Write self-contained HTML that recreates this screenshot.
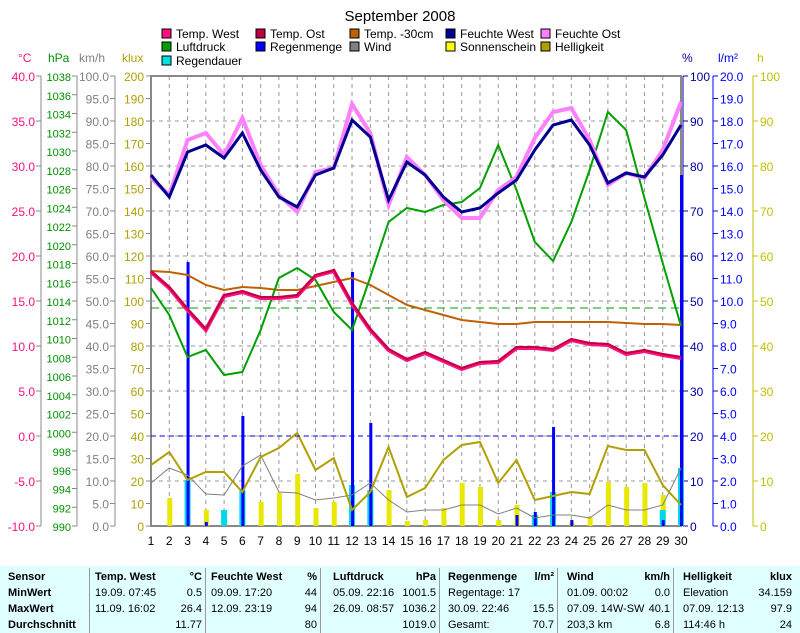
<!DOCTYPE html><html><head><meta charset="utf-8"><style>
body{margin:0;background:#fff;width:800px;height:633px;overflow:hidden;font-family:"Liberation Sans",sans-serif}
svg{position:absolute;left:0;top:0}
#tbl{position:absolute;left:0;top:566px;width:800px;height:67px;background:#e0ffff;font-size:11px}
#tbl div{position:absolute;white-space:nowrap}
.b{font-weight:bold}
.sep{width:1px;background:#999;top:2px;height:65px}
</style></head><body>
<svg id="s" width="800" height="566" font-family="Liberation Sans, sans-serif"></svg>
<div id="tbl"></div>
<script>
const s=document.getElementById('s');let h='';
const X=d=>151+(d-1)*(530/29);
h+='<text x="400" y="21" font-size="15" text-anchor="middle">September 2008</text>';
const leg=[[162,37,'#ff1080','Temp. West'],[256,37,'#c00040','Temp. Ost'],[350,37,'#c06000','Temp. -30cm'],[446,37,'#000090','Feuchte West'],[541,37,'#ff80ff','Feuchte Ost'],
[162,50,'#00a000','Luftdruck'],[256,50,'#0000ff','Regenmenge'],[350,50,'#808080','Wind'],[446,50,'#ffff00','Sonnenschein'],[541,50,'#b0a000','Helligkeit'],[162,64,'#00e0e0','Regendauer']];
leg.forEach(l=>{h+=`<rect x="${l[0]}" y="${l[1]-8}" width="9" height="9" fill="${l[2]}" stroke="#000"/><text x="${l[0]+14}" y="${l[1]+1}" font-size="12">${l[3]}</text>`});
for(let d=1;d<=30;d++){h+=`<line x1="${X(d)}" y1="76" x2="${X(d)}" y2="526" stroke="#999" stroke-dasharray="4,4"/>`;h+=`<text x="${X(d)}" y="545" font-size="12" text-anchor="middle">${d}</text>`}
for(let y=76;y<=526;y+=45)h+=`<line x1="151" y1="${y}" x2="681" y2="${y}" stroke="#999" stroke-dasharray="4,4"/>`;
h+='<rect x="151" y="76" width="530" height="450" fill="none" stroke="#888" stroke-width="2"/>';
function ax(xl,col,n,step,lab,anchorX,fs){h+=`<line x1="${xl}" y1="76" x2="${xl}" y2="526" stroke="#888"/>`;for(let i=0;i<=n;i++){const y=76+i*step;h+=`<line x1="${xl-5}" y1="${y}" x2="${xl}" y2="${y}" stroke="#888"/><text x="${anchorX}" y="${y+5}" font-size="${fs||12}" fill="${col}" text-anchor="end">${lab(i)}</text>`}}
ax(41,'#ff1080',10,45,i=>(40-5*i).toFixed(1),35);
ax(77,'#009000',24,18.75,i=>1038-2*i,71,11);
ax(115,'#808080',20,22.5,i=>(100-5*i).toFixed(1),109);
ax(151,'#b0a000',20,22.5,i=>200-10*i,144);
function axr(xl,col,n,step,lab){h+=`<line x1="${xl}" y1="76" x2="${xl}" y2="526" stroke="${col}"/>`;for(let i=0;i<=n;i++){const y=76+i*step;h+=`<line x1="${xl}" y1="${y}" x2="${xl+5}" y2="${y}" stroke="${col}"/><text x="${xl+7}" y="${y+5}" font-size="12" fill="${col}">${lab(i)}</text>`}}
axr(683,'#0000a0',10,45,i=>100-10*i);
axr(713,'#0000ff',20,22.5,i=>(20-i).toFixed(1));
axr(753,'#c0c000',10,45,i=>100-10*i);
[[18,'#ff1080','°C'],[48,'#009000','hPa'],[79,'#808080','km/h'],[122,'#b0a000','klux'],[682,'#0000a0','%'],[718,'#0000ff','l/m²'],[757,'#c0c000','h']].forEach(a=>h+=`<text x="${a[0]}" y="62" font-size="12" fill="${a[1]}">${a[2]}</text>`);
const sun=[526,498,485,510,512,492,502,493,474,508,502,505,495,490,521,520,508,483,487,520,505,515,495,522,517,482,487,483,495,505];
sun.forEach((y,i)=>h+=`<rect x="${X(i+1)-2}" y="${y}" width="5" height="${526-y}" fill="#e8e800"/>`);
const dur={3:480,5:510,6:490,12:485,13:490,22:515,23:492,29:510,30:468};
for(const d in dur)h+=`<rect x="${X(+d)-3}" y="${dur[d]}" width="6" height="${526-dur[d]}" fill="#00d8e8"/>`;
const rain={3:262,4:522,6:416,12:272,13:423,21:515,22:512,23:427,24:520,29:520,30:175};
for(const d in rain)h+=`<rect x="${X(+d)-1}" y="${rain[d]}" width="3" height="${526-rain[d]}" fill="#0000ff"/>`;
function pl(a,c,w){h+=`<polyline fill="none" stroke="${c}" stroke-width="${w}" points="${a.map((y,i)=>X(i+1)+','+y).join(' ')}"/>`}
pl([483,468,475,494,495,466,455,492,493,500,498,495,483,500,512,510,510,505,505,514,508,518,515,515,518,505,510,510,505,468],'#808080',1);
pl([465,452,480,472,472,492,457,448,433,470,458,510,492,447,497,488,460,445,442,483,460,500,496,492,494,446,450,450,485,505],'#b0a000',2);
h+='<line x1="151" y1="436" x2="681" y2="436" stroke="#0000ff" stroke-dasharray="5,4"/>';
h+='<line x1="151" y1="308" x2="681" y2="308" stroke="#00a000" stroke-dasharray="8,5"/>';
pl([271,272,275,285,290,287,288,290,290,286,282,278,285,295,305,310,315,320,322,324,324,322,322,322,322,322,323,324,324,325],'#c06000',2);
pl([288,315,357,350,375,372,330,278,268,280,312,330,277,222,208,212,205,202,188,145,190,242,261,222,170,112,130,198,263,326],'#00a000',2);
const tw=[272,288,310,330,296,292,298,298,296,276,271,304,330,350,360,353,361,369,363,362,348,348,350,340,344,345,354,351,355,358];
pl(tw,'#ff1080',4);pl(tw.map(y=>y-1),'#c00040',2);
pl([178,195,140,133,155,118,165,195,212,172,168,104,133,205,157,175,200,218,218,190,177,138,112,108,140,185,173,178,150,102],'#ff80ff',4);
pl([175,197,152,145,158,133,170,197,207,175,168,120,137,200,162,175,197,212,208,193,180,150,125,120,145,183,173,177,155,125],'#000090',3);
s.innerHTML=h;
const t=document.getElementById('tbl');let g='';
const rows=[12,28,44,60];
function c(x,r,txt,b,right){g+=`<div class="${b?'b':''}" style="${right?'right:'+(800-x)+'px':'left:'+x+'px'};top:${rows[r]-7}px">${txt}</div>`}
[89,205,320,439,557,673].forEach(x=>g+=`<div class="sep" style="left:${x}px"></div>`);
['Sensor','MinWert','MaxWert','Durchschnitt'].forEach((v,i)=>c(8,i,v,1));
const cols=[[95,202,'Temp. West','°C',['19.09.  07:45','11.09.  16:02',''],['0.5','26.4','11.77']],
[211,317,'Feuchte West','%',['09.09.  17:20','12.09.  23:19',''],['44','94','80']],
[333,436,'Luftdruck','hPa',['05.09.  22:16','26.09.  08:57',''],['1001.5','1036.2','1019.0']],
[448,554,'Regenmenge','l/m²',['Regentage: 17','30.09.  22:46','Gesamt:'],['','15.5','70.7']],
[567,670,'Wind','km/h',['01.09.  00:02','07.09.  14W-SW','203,3 km'],['0.0','40.1','6.8']],
[683,792,'Helligkeit','klux',['Elevation','07.09.  12:13','114:46 h'],['34.159','97.9','24']]];
cols.forEach(k=>{c(k[0],0,k[2],1);c(k[1],0,k[3],1,1);for(let i=0;i<3;i++){c(k[0],i+1,k[4][i]);c(k[1],i+1,k[5][i],0,1)}});
t.innerHTML=g;
</script></body></html>
